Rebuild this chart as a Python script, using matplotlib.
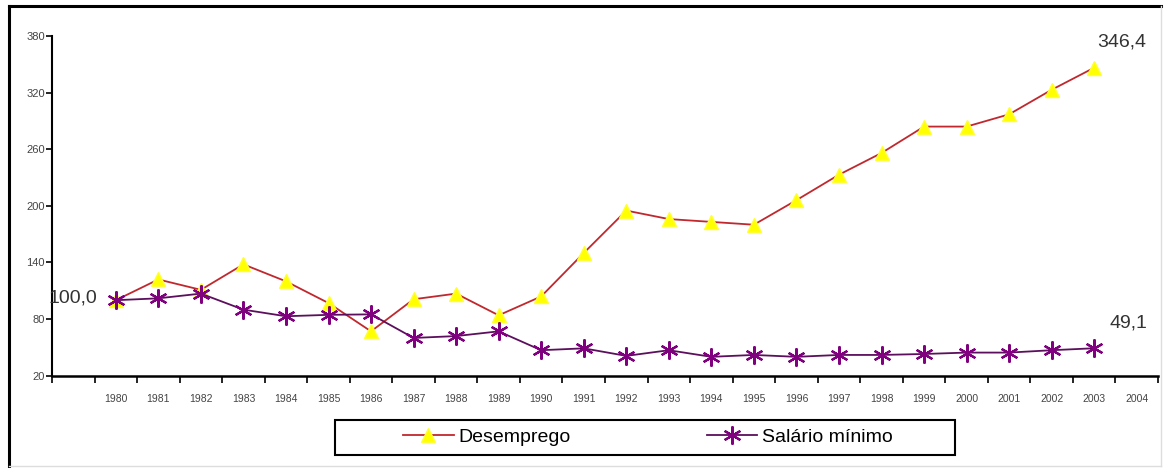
import numpy as np
import matplotlib
matplotlib.use("Agg")
import matplotlib.pyplot as plt
from matplotlib.lines import Line2D
from matplotlib.patches import Rectangle

plt.rcParams['font.family'] = ['Liberation Sans', 'DejaVu Sans']

# data (index 1980 = 100)
years = [str(y) for y in range(1980, 2005)]
desemprego = [100.0, 122, 111, 138, 120, 97, 67, 101, 107, 84, 104, 150, 195,
              186, 183, 180, 206, 233, 256, 284, 284, 297, 323, 346.4]
salario = [100.0, 102, 107, 90, 83, 84.5, 85, 60, 62, 67, 47, 49, 41,
           47, 40, 42, 40, 42, 42, 43, 44.5, 44.5, 47, 49.1]
yticks = [20, 80, 140, 200, 260, 320, 380]

W, H = 1166, 468
fig = plt.figure(figsize=(W / 100, H / 100), dpi=100)
ax = fig.add_axes([52/W, 1 - 375.7/H, 1106/W, (375.7 - 36)/H])

# one empty slot before 1980, as in the original sheet
x = np.arange(len(desemprego)) + 1

red_style = dict(color='#c0282d', lw=1.3, marker='^', ms=10,
                 mfc='#ffff00', mec='#ffff33')
pur_style = dict(color='#5c0f5c', lw=1.3, marker=(6, 2, 0), ms=13,
                 mec='#800080', mew=1.6)
ax.plot(x, desemprego, zorder=3, **red_style)
ax.plot(x, salario, zorder=4, **pur_style)

ax.set_xlim(-0.5, len(years) + 0.5)
ax.set_ylim(20, 380)
ax.set_yticks(yticks)
ax.set_yticklabels([str(t) for t in yticks], fontsize=8, color='#444444')
ax.set_xticks(np.arange(len(years) + 2) - 0.5)
ax.set_xticklabels([])
for i, lab in enumerate(years):
    ax.text(i + 1, -0.068, lab, transform=ax.get_xaxis_transform(),
            ha='center', va='center', fontsize=7.5, color='#444444')
ax.tick_params(axis='both', direction='out', length=4, width=1.2, pad=1)
ax.tick_params(axis='x', length=5)
for s in ['top', 'right']:
    ax.spines[s].set_visible(False)
ax.spines['left'].set_linewidth(1.5)
ax.spines['bottom'].set_linewidth(1.8)

ax.text(x[0] - 0.43, 102, '100,0', ha='right', va='center',
        fontsize=14, color='#333333')
ax.text(x[-1] + 0.07, 374, '346,4', ha='left', va='center',
        fontsize=14, color='#333333')
ax.text(x[-1] + 0.35, 76, '49,1', ha='left', va='center',
        fontsize=14, color='#333333')

handles = [Line2D([], [], **red_style), Line2D([], [], **pur_style)]
fig.legend(handles, ['Desemprego', 'Salário mínimo'], ncol=2,
           loc='center left', bbox_to_anchor=(403/W, 1 - 437/H),
           fontsize=14, frameon=False, columnspacing=7.0, handlelength=2.6,
           handletextpad=0.25, borderpad=0, borderaxespad=0)
fig.add_artist(Rectangle((335/W, 1 - 455/H), 620/W, 35/H, fill=False,
                         ec='black', lw=1.5, transform=fig.transFigure))

# outer chart frame
fig.add_artist(Line2D([9/W, 9/W], [0, 1 - 6/H], color='black', lw=2.2))
fig.add_artist(Line2D([9/W, 1161/W], [1 - 6/H, 1 - 6/H],
                      color='black', lw=2.2))
fig.add_artist(Line2D([1161/W, 1161/W], [2/H, 1 - 6/H],
                      color='#dddddd', lw=1))
fig.add_artist(Line2D([9/W, 1161/W], [2/H, 2/H], color='#dddddd', lw=1))

fig.savefig('out.png', dpi=100)
